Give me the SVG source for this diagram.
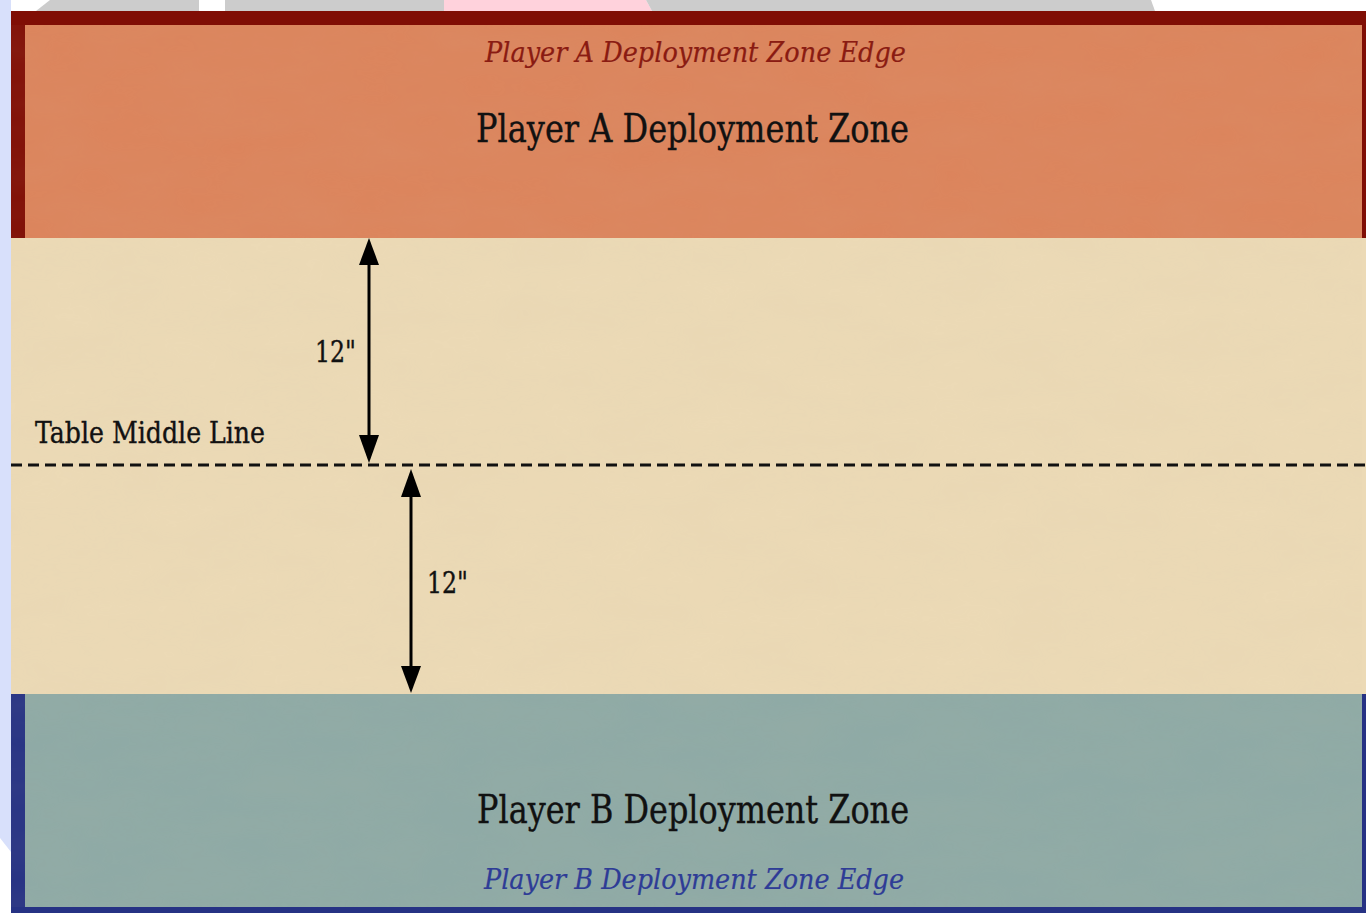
<svg xmlns="http://www.w3.org/2000/svg" width="1366" height="914" viewBox="0 0 1366 914">
  <defs>
    <style>
      .lbl { font-family: "DejaVu Serif", "Liberation Serif", serif; fill: #111; stroke: #111; stroke-width: 0.4; }
      .big { font-size: 40px; }
      .mid { font-size: 30px; }
      .edge { font-size: 28px; font-style: italic; stroke-width: 0.2; }
      .arrow { stroke: #000; stroke-width: 3; fill: none; }
      .head { fill: #000; }
      .dash { stroke: #111; stroke-width: 3; stroke-dasharray: 11 6; fill: none; }
    </style>
    <filter id="paper" x="0" y="0" width="100%" height="100%">
      <feTurbulence type="fractalNoise" baseFrequency="0.012 0.03" numOctaves="4" seed="7" result="n"/>
      <feColorMatrix type="matrix" in="n" values="0 0 0 0 0.6  0 0 0 0 0.5  0 0 0 0 0.35  0 0 0 0.2 0"/>
    </filter>
  </defs>

  <!-- background -->
  <rect x="0" y="0" width="1366" height="914" fill="#ffffff"/>
  <rect x="0" y="0" width="11" height="914" fill="#d8e0fb"/>
  <polygon points="0,838 11,852 11,914 0,914" fill="#ffffff"/>
  <rect x="0" y="0" width="6" height="11" fill="#d8e0fb"/>
  <polygon points="36,11 50,0 199,0 199,11" fill="#cccccc"/>
  <polygon points="225,11 225,0 444,0 444,11" fill="#cccccc"/>
  <polygon points="444,11 444,0 646,0 652,11" fill="#ffd2dc"/>
  <polygon points="652,11 646,0 1151,0 1155,11" fill="#cccccc"/>

  <!-- Player A zone -->
  <g id="zoneA">
    <rect x="11" y="11" width="1365" height="227" fill="#800e05"/>
    <rect x="25" y="25" width="1337" height="213" fill="#dc845c"/>
  </g>

  <!-- middle area -->
  <g id="middle">
    <rect x="11" y="238" width="1355" height="456" fill="#ecdab6"/>
  </g>

  <!-- Player B zone -->
  <g id="zoneB">
    <rect x="11" y="694" width="1365" height="219" fill="#263284"/>
    <rect x="25" y="694" width="1337" height="213" fill="#8eaaa6"/>
  </g>

  <!-- paper texture -->
  <rect x="11" y="25" width="1351" height="882" filter="url(#paper)" opacity="0.4"/>

  <!-- connectors -->
  <g id="connectors">
    <line class="dash" x1="11" y1="465" x2="1366" y2="465"/>
    <line class="arrow" x1="369" y1="262" x2="369" y2="438"/>
    <polygon class="head" points="369,238 379,265 359,265"/>
    <polygon class="head" points="369,463 379,435 359,435"/>
    <line class="arrow" x1="411" y1="494" x2="411" y2="669"/>
    <polygon class="head" points="411,469 421,497 401,497"/>
    <polygon class="head" points="411,693 421,666 401,666"/>
  </g>

  <!-- texts -->
  <g id="labelAEdge">
    <text class="lbl edge" x="485" y="62" textLength="421" lengthAdjust="spacingAndGlyphs" style="fill:#8a1b12;stroke:#8a1b12">Player A Deployment Zone Edge</text>
  </g>
  <g id="labelA">
    <text class="lbl big" x="476" y="142" textLength="433" lengthAdjust="spacingAndGlyphs">Player A Deployment Zone</text>
  </g>
  <g id="label12a">
    <text class="lbl mid" x="315" y="362" textLength="41" lengthAdjust="spacingAndGlyphs">12"</text>
  </g>
  <g id="labelMiddle">
    <text class="lbl mid" x="35" y="443" textLength="230" lengthAdjust="spacingAndGlyphs">Table Middle Line</text>
  </g>
  <g id="label12b">
    <text class="lbl mid" x="427" y="593" textLength="41" lengthAdjust="spacingAndGlyphs">12"</text>
  </g>
  <g id="labelB">
    <text class="lbl big" x="477" y="823" textLength="432" lengthAdjust="spacingAndGlyphs">Player B Deployment Zone</text>
  </g>
  <g id="labelBEdge">
    <text class="lbl edge" x="484" y="889" textLength="420" lengthAdjust="spacingAndGlyphs" style="fill:#2e3c96;stroke:#2e3c96">Player B Deployment Zone Edge</text>
  </g>
</svg>
